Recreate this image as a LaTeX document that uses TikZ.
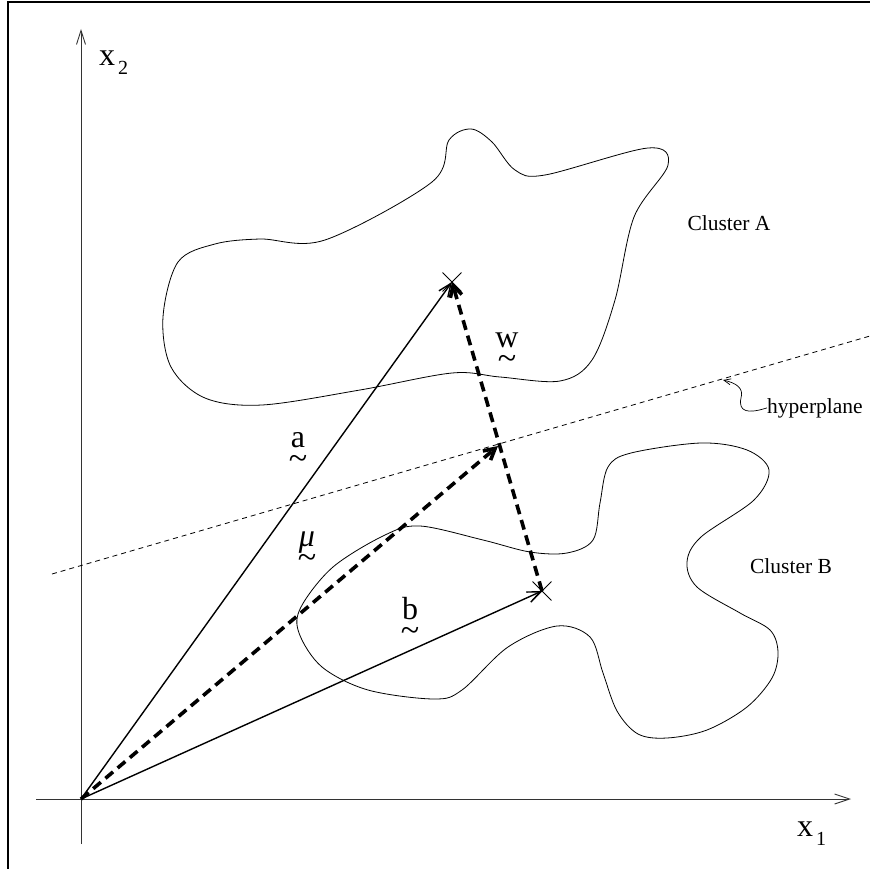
\documentclass[tikz,border=0pt]{standalone}
\usepackage{fontspec}
\setmainfont{Liberation Serif}
\usetikzlibrary{arrows.meta,shapes.misc}

% letter with a tilde set under it
\newcommand{\uvec}[1]{\ooalign{#1\cr\hidewidth\raisebox{-22pt}{\fontsize{34}{36}\selectfont\textasciitilde}\hidewidth\cr}}

\begin{document}
\begin{tikzpicture}[x=1pt,y=-1pt,
  axis/.style={draw=black!80, line width=0.9pt},
  vec/.style={line width=1.4pt, -{Straight Barb[length=13pt,width=11pt]}},
  dvec/.style={line width=3.6pt, dash pattern=on 10pt off 6pt, -{Straight Barb[length=11pt,width=12pt]}},
  blob/.style={line width=0.8pt},
  xmark/.style={cross out, draw, line width=0.9pt, minimum size=18pt, inner sep=0pt},
  big/.style={font=\fontsize{32}{36}\selectfont, inner sep=0pt},
  lbl/.style={font=\fontsize{21.5}{24}\selectfont, inner sep=0pt}]
\useasboundingbox (0,0) rectangle (870,869);

% frame
\draw[line width=1.2pt] (8,869) -- (8,2) -- (870,2);

% axes
\coordinate (O) at (81,799);
\coordinate (xl) at (36,799);
\coordinate (xr) at (851,799);
\coordinate (yb) at (81,844);
\coordinate (yt) at (81,29);
\draw[axis, -{Straight Barb[length=15pt,width=10pt]}] (xl) -- (xr);
\draw[axis, -{Straight Barb[length=14pt,width=9pt]}] (yb) -- (yt);
\node[big, anchor=base west] (xone) at (797,836) {x\hspace{3pt}\raisebox{-9pt}{\fontsize{20}{24}\selectfont 1}};
\node[big, anchor=base west] (xtwo) at (99,66) {x\hspace{3pt}\raisebox{-9pt}{\fontsize{20}{24}\selectfont 2}};

% clusters
\draw[blob] plot[smooth cycle, tension=0.55] coordinates {
  (163,317) (178,262) (215,244) (260,239) (325,240) (432,182)
  (449,140) (471,129) (492,142) (515,170) (545,175) (648,148) (668,165) (634,217)
  (615,300) (592,360) (560,381) (500,377) (452,373) (360,390) (262,405)
  (205,398) (171,367)};
\draw[blob] plot[smooth cycle, tension=0.55] coordinates {
  (420,526) (483,540) (530,552) (567,553) (593,540) (600,503) (608,467)
  (631,453) (701,443) (747,450) (769,470) (754,500) (701,537) (687,562)
  (697,587) (740,613) (770,630) (778,652) (772,678) (747,707) (707,730)
  (667,738) (638,734) (617,711) (603,673) (590,637) (557,626) (508,647)
  (462,690) (434,699) (368,690) (322,667) (299,633) (301,607) (333,567)
  (385,535)};
\node[lbl, anchor=base] (cla) at (729,230) {Cluster A};
\node[lbl, anchor=base] (clb) at (791,573) {Cluster B};

% hyperplane
\coordinate (h1) at (52,574);
\coordinate (h2) at (870,336);
\coordinate (hp) at (723,380);
\draw[line width=0.8pt, dash pattern=on 5pt off 4pt] (h1) -- (h2);
\node[lbl, anchor=base west] (hyp) at (767,413) {hyperplane};
\draw[line width=0.7pt, -{Straight Barb[length=7pt,width=6pt]}] (hyp.west)
  .. controls (748,414) and (738,412) .. (741,398)
  .. controls (744,388) and (736,383) .. (hp);

% vectors
\node[xmark] (A) at (452,282) {};
\node[xmark] (B) at (542,591) {};
\coordinate (M) at (498,446);
\draw[dvec] (B.center) -- (A.center);
\draw[dvec] (O) -- (M);
\draw[vec] (O) -- (A.center);
\draw[vec] (O) -- (B.center);

\node[big, anchor=base] (la) at (298,447) {\uvec{a}};
\node[big, anchor=base] (lb) at (410,619) {\uvec{b}};
\node[big, anchor=base] (lw) at (507,347) {\uvec{w}};
\node[big, anchor=base] (lmu) at (307,546) {\uvec{\textit{μ}}};
\end{tikzpicture}
\end{document}
